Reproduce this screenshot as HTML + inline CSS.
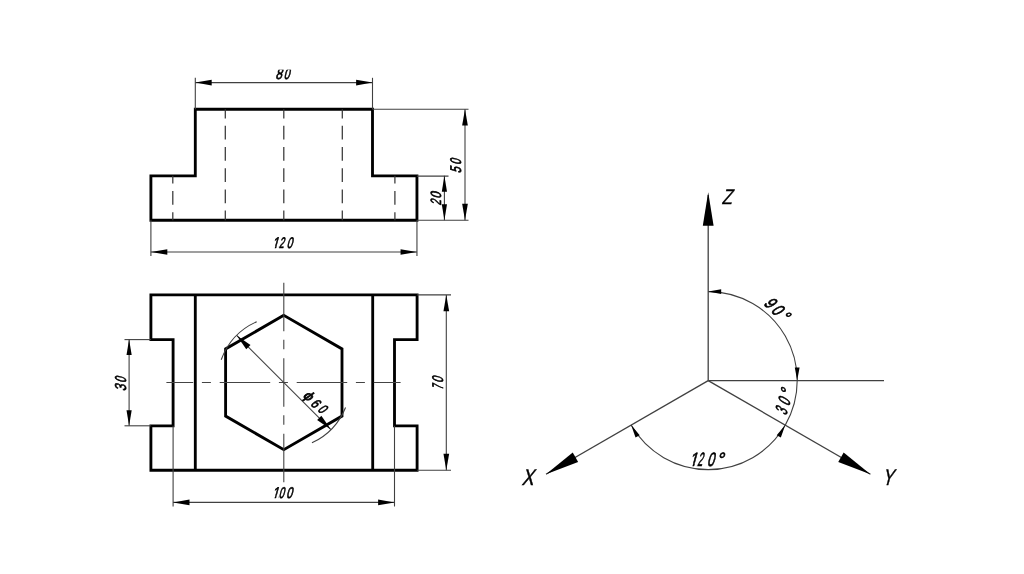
<!DOCTYPE html>
<html><head><meta charset="utf-8"><style>
html,body{margin:0;padding:0;background:#fff;}
svg{display:block;will-change:transform;}
text{font-family:"Liberation Sans",sans-serif;fill:#000;stroke:#000;stroke-width:0.45px;text-rendering:geometricPrecision;}
</style></head><body>
<svg width="1024" height="574" viewBox="0 0 1024 574">
<rect width="1024" height="574" fill="#fff"/>
<path d="M150.90,220.25 L150.90,175.80 L195.30,175.80 L195.30,109.20 L372.50,109.20 L372.50,175.80 L416.95,175.80 L416.95,220.25 Z" fill="none" stroke="#000" stroke-width="2.85" stroke-linejoin="miter" stroke-linecap="square"/>
<line x1="172.8" y1="175.8" x2="172.8" y2="220.25" stroke="#383838" stroke-width="1.25" stroke-dasharray="13.8 7.4" stroke-dashoffset="6.0"/>
<line x1="225.3" y1="109.2" x2="225.3" y2="220.25" stroke="#383838" stroke-width="1.25" stroke-dasharray="13.8 7.4" stroke-dashoffset="4.6"/>
<line x1="283.8" y1="109.2" x2="283.8" y2="220.25" stroke="#383838" stroke-width="1.25" stroke-dasharray="13.8 7.4" stroke-dashoffset="4.6"/>
<line x1="342.3" y1="109.2" x2="342.3" y2="220.25" stroke="#383838" stroke-width="1.25" stroke-dasharray="13.8 7.4" stroke-dashoffset="4.6"/>
<line x1="394.9" y1="175.8" x2="394.9" y2="220.25" stroke="#383838" stroke-width="1.25" stroke-dasharray="13.8 7.4" stroke-dashoffset="6.0"/>
<line x1="195.30" y1="77.80" x2="195.30" y2="109.20" stroke="#404040" stroke-width="1.1" />
<line x1="372.50" y1="77.80" x2="372.50" y2="109.20" stroke="#404040" stroke-width="1.1" />
<line x1="195.30" y1="82.60" x2="372.50" y2="82.60" stroke="#404040" stroke-width="1.1" />
<path d="M195.30,82.60 L211.70,79.75 L211.70,85.45 Z" fill="#000"/>
<path d="M372.50,82.60 L356.10,85.45 L356.10,79.75 Z" fill="#000"/>
<line x1="150.90" y1="220.25" x2="150.90" y2="256.00" stroke="#404040" stroke-width="1.1" />
<line x1="416.95" y1="220.25" x2="416.95" y2="256.00" stroke="#404040" stroke-width="1.1" />
<line x1="150.90" y1="252.00" x2="416.95" y2="252.00" stroke="#404040" stroke-width="1.1" />
<path d="M150.90,252.00 L167.30,249.15 L167.30,254.85 Z" fill="#000"/>
<path d="M416.95,252.00 L400.55,254.85 L400.55,249.15 Z" fill="#000"/>
<line x1="372.50" y1="109.20" x2="468.50" y2="109.20" stroke="#404040" stroke-width="1.1" />
<line x1="416.95" y1="220.25" x2="468.50" y2="220.25" stroke="#404040" stroke-width="1.1" />
<line x1="465.00" y1="109.20" x2="465.00" y2="220.25" stroke="#404040" stroke-width="1.1" />
<path d="M465.00,109.20 L467.85,125.60 L462.15,125.60 Z" fill="#000"/>
<path d="M465.00,220.25 L462.15,203.85 L467.85,203.85 Z" fill="#000"/>
<line x1="416.95" y1="176.10" x2="448.50" y2="176.10" stroke="#404040" stroke-width="1.1" />
<line x1="444.40" y1="175.80" x2="444.40" y2="220.25" stroke="#404040" stroke-width="1.1" />
<path d="M444.40,175.80 L447.00,191.80 L441.80,191.80 Z" fill="#000"/>
<path d="M444.40,220.25 L441.80,204.25 L447.00,204.25 Z" fill="#000"/>
<path d="M150.90,294.90 L417.10,294.90 L417.10,339.60 L394.50,339.60 L394.50,425.80 L417.10,425.80 L417.10,470.20 L150.90,470.20 L150.90,425.80 L173.10,425.80 L173.10,339.60 L150.90,339.60 Z" fill="none" stroke="#000" stroke-width="2.85" stroke-linejoin="miter" stroke-linecap="square"/>
<line x1="195.30" y1="294.90" x2="195.30" y2="470.20" stroke="#000" stroke-width="2.85" />
<line x1="372.70" y1="294.90" x2="372.70" y2="470.20" stroke="#000" stroke-width="2.85" />
<path d="M283.80,315.30 L225.60,348.90 L225.60,416.10 L283.80,449.70 L342.00,416.10 L342.00,348.90 Z" fill="none" stroke="#000" stroke-width="2.85" stroke-linejoin="miter" stroke-linecap="square"/>
<line x1="166.4" y1="382.5" x2="400.6" y2="382.5" stroke="#444" stroke-width="1.1" stroke-dasharray="50.5 8.7 9 8.8" stroke-dashoffset="23.70"/>
<line x1="283.8" y1="282.7" x2="283.8" y2="482.4" stroke="#444" stroke-width="1.1" stroke-dasharray="48.5 8.5 9.5 9" stroke-dashoffset="0"/>
<line x1="124.50" y1="339.60" x2="150.90" y2="339.60" stroke="#404040" stroke-width="1.1" />
<line x1="124.50" y1="425.80" x2="150.90" y2="425.80" stroke="#404040" stroke-width="1.1" />
<line x1="129.10" y1="339.60" x2="129.10" y2="425.80" stroke="#404040" stroke-width="1.1" />
<path d="M129.10,339.60 L131.70,355.10 L126.50,355.10 Z" fill="#000"/>
<path d="M129.10,425.80 L126.50,410.30 L131.70,410.30 Z" fill="#000"/>
<line x1="417.10" y1="294.90" x2="451.00" y2="294.90" stroke="#404040" stroke-width="1.1" />
<line x1="417.10" y1="470.20" x2="451.00" y2="470.20" stroke="#404040" stroke-width="1.1" />
<line x1="446.30" y1="294.90" x2="446.30" y2="470.20" stroke="#404040" stroke-width="1.1" />
<path d="M446.30,294.90 L449.15,311.30 L443.45,311.30 Z" fill="#000"/>
<path d="M446.30,470.20 L443.45,453.80 L449.15,453.80 Z" fill="#000"/>
<line x1="173.10" y1="425.80" x2="173.10" y2="506.50" stroke="#404040" stroke-width="1.1" />
<line x1="394.50" y1="425.80" x2="394.50" y2="506.50" stroke="#404040" stroke-width="1.1" />
<line x1="173.10" y1="502.40" x2="394.50" y2="502.40" stroke="#404040" stroke-width="1.1" />
<path d="M173.10,502.40 L189.50,499.55 L189.50,505.25 Z" fill="#000"/>
<path d="M394.50,502.40 L378.10,505.25 L378.10,499.55 Z" fill="#000"/>
<line x1="236.71" y1="335.41" x2="330.89" y2="429.59" stroke="#404040" stroke-width="1.1" />
<path d="M236.71,335.41 L250.50,344.95 L246.25,349.20 Z" fill="#000"/>
<path d="M330.89,429.59 L317.10,420.05 L321.35,415.80 Z" fill="#000"/>
<path d="M256.71,321.66 A66.6,66.6 0 0 0 221.22,359.72" fill="none" stroke="#404040" stroke-width="1.1"/>
<path d="M311.95,442.86 A66.6,66.6 0 0 0 345.55,407.45" fill="none" stroke="#404040" stroke-width="1.1"/>
<line x1="708.20" y1="380.60" x2="708.20" y2="195.00" stroke="#404040" stroke-width="1.3" />
<path d="M708.20,192.30 L713.60,225.80 L702.80,225.80 Z" fill="#000"/>
<line x1="708.20" y1="380.60" x2="884.00" y2="380.60" stroke="#404040" stroke-width="1.3" />
<line x1="708.20" y1="380.60" x2="545.99" y2="474.25" stroke="#404040" stroke-width="1.3" />
<path d="M545.99,474.25 L572.74,452.57 L578.14,461.93 Z" fill="#000"/>
<line x1="708.20" y1="380.60" x2="870.41" y2="474.25" stroke="#404040" stroke-width="1.3" />
<path d="M870.41,474.25 L838.26,461.93 L843.66,452.57 Z" fill="#000"/>
<path d="M708.20,291.60 A89,89 0 0 1 785.28,425.10" fill="none" stroke="#404040" stroke-width="1.1"/>
<path d="M785.28,425.10 A89,89 0 0 1 631.12,425.10" fill="none" stroke="#404040" stroke-width="1.1"/>
<path d="M708.20,291.60 L721.20,289.20 L721.20,294.00 Z" fill="#000"/>
<path d="M797.20,380.60 L794.80,367.60 L799.60,367.60 Z" fill="#000"/>
<path d="M785.28,425.10 L780.85,437.56 L776.70,435.16 Z" fill="#000"/>
<path d="M631.12,425.10 L639.70,435.16 L635.55,437.56 Z" fill="#000"/>
<clipPath id="c80"><rect x="0" y="69.8" width="1024" height="504"/></clipPath>
<g clip-path="url(#c80)"><g transform="translate(0,0) rotate(0)"><g transform="translate(0,78.75) skewX(-15) scale(0.7520,1)"><text x="365.983" y="0" font-size="15.60" style="stroke-width:0.7px">8</text></g><g transform="translate(0,78.75) skewX(-15) scale(0.6710,1)"><text x="422.568" y="0" font-size="15.60" style="stroke-width:0.7px">0</text></g></g></g>
<g><g transform="translate(0,0) rotate(0)"><g transform="translate(0,248.45) skewX(-15) scale(0.7500,1)"><clipPath id="gt66_0"><path d="M-3000,-300 H3000 V300 H-3000 Z M362.163,-2.443 H366.244 V1.500 H362.163 Z M368.129,-2.443 H370.892 V1.500 H368.129 Z" clip-rule="evenodd"/></clipPath><text x="362.663" y="0" font-size="15.30" clip-path="url(#gt66_0)" style="stroke-width:0.7px">1</text></g><g transform="translate(0,248.45) skewX(-15) scale(0.5730,1)"><text x="486.578" y="0" font-size="15.30" style="stroke-width:0.7px">2</text></g><g transform="translate(0,248.45) skewX(-15) scale(0.6580,1)"><text x="435.384" y="0" font-size="15.30" style="stroke-width:0.7px">0</text></g></g></g>
<g><g transform="translate(0,0) rotate(0)"><g transform="translate(0,498.00) skewX(-15) scale(0.7500,1)"><clipPath id="gt67_0"><path d="M-3000,-300 H3000 V300 H-3000 Z M362.079,-2.458 H366.210 V1.500 H362.079 Z M368.113,-2.458 H370.909 V1.500 H368.113 Z" clip-rule="evenodd"/></clipPath><text x="362.579" y="0" font-size="15.50" clip-path="url(#gt67_0)" style="stroke-width:0.7px">1</text></g><g transform="translate(0,498.00) skewX(-15) scale(0.6140,1)"><text x="453.611" y="0" font-size="15.50" style="stroke-width:0.7px">0</text></g><g transform="translate(0,498.00) skewX(-15) scale(0.6930,1)"><text x="412.882" y="0" font-size="15.50" style="stroke-width:0.7px">0</text></g></g></g>
<g><g transform="translate(125.5,0) rotate(-90)"><g transform="translate(0,0.00) skewX(-15) scale(0.7250,1)"><text x="-539.654" y="0" font-size="15.80" style="stroke-width:0.7px">3</text></g><g transform="translate(0,0.00) skewX(-15) scale(0.6280,1)"><text x="-609.751" y="0" font-size="15.80" style="stroke-width:0.7px">0</text></g></g></g>
<g><g transform="translate(442.6,0) rotate(-90)"><g transform="translate(0,0.00) skewX(-15) scale(0.5400,1)"><text x="-721.929" y="0" font-size="15.50" style="stroke-width:0.7px">7</text></g><g transform="translate(0,0.00) skewX(-15) scale(0.6770,1)"><text x="-565.665" y="0" font-size="15.50" style="stroke-width:0.7px">0</text></g></g></g>
<g><g transform="translate(461.3,0) rotate(-90)"><g transform="translate(0,0.00) skewX(-15) scale(0.6590,1)"><text x="-262.745" y="0" font-size="15.50" style="stroke-width:0.7px">5</text></g><g transform="translate(0,0.00) skewX(-15) scale(0.6450,1)"><text x="-255.688" y="0" font-size="15.50" style="stroke-width:0.7px">0</text></g></g></g>
<g><g transform="translate(440.7,0) rotate(-90)"><g transform="translate(0,0.00) skewX(-15) scale(0.6530,1)"><text x="-314.757" y="0" font-size="14.80" style="stroke-width:0.7px">2</text></g><g transform="translate(0,0.00) skewX(-15) scale(0.7540,1)"><text x="-263.628" y="0" font-size="14.80" style="stroke-width:0.7px">0</text></g></g></g>
<g><g transform="translate(316.0,403.05) rotate(40)"><g transform="translate(0,3.70) skewX(-15) scale(1.0950,1)"><text x="-13.754" y="0" font-size="14.00" style="stroke-width:0.7px">ɸ</text></g><g transform="translate(0,5.00) skewX(-15) scale(0.8160,1)"><text x="-4.751" y="0" font-size="14.00" style="stroke-width:0.7px">6</text></g><g transform="translate(0,5.00) skewX(-15) scale(0.7440,1)"><text x="7.265" y="0" font-size="14.00" style="stroke-width:0.7px">0</text></g></g></g>
<g><g transform="translate(778.8,310.0) rotate(44)"><g transform="translate(0,6.60) skewX(-15) scale(0.7290,1)"><text x="-21.226" y="0" font-size="17.90" style="stroke-width:0.7px">9</text></g><g transform="translate(0,6.60) skewX(-15) scale(0.7650,1)"><text x="-7.146" y="0" font-size="17.90" style="stroke-width:0.7px">0</text></g><g transform="translate(0,6.60) skewX(-15) scale(0.8120,1)"><text x="5.928" y="0" font-size="17.90" style="stroke-width:0.7px">°</text></g></g></g>
<g><g transform="translate(783.9,400.2) rotate(-74)"><g transform="translate(0,6.60) skewX(-15) scale(0.5650,1)"><text x="-25.378" y="0" font-size="17.90" style="stroke-width:0.7px">3</text></g><g transform="translate(0,6.60) skewX(-15) scale(0.6300,1)"><text x="-7.612" y="0" font-size="17.90" style="stroke-width:0.7px">0</text></g><g transform="translate(0,6.60) skewX(-15) scale(0.7910,1)"><text x="5.864" y="0" font-size="17.90" style="stroke-width:0.7px">°</text></g></g></g>
<g><g transform="translate(0,0) rotate(0)"><g transform="translate(0,466.10) skewX(-15) scale(0.7500,1)"><clipPath id="gt75_0"><path d="M-3000,-300 H3000 V300 H-3000 Z M918.289,-2.742 H923.375 V1.500 H918.289 Z M925.614,-2.742 H929.047 V1.500 H925.614 Z" clip-rule="evenodd"/></clipPath><text x="918.789" y="0" font-size="19.30" clip-path="url(#gt75_0)" style="stroke-width:0.7px">1</text></g><g transform="translate(0,466.10) skewX(-15) scale(0.4850,1)"><text x="1437.277" y="0" font-size="19.30" style="stroke-width:0.7px">2</text></g><g transform="translate(0,466.10) skewX(-15) scale(0.6650,1)"><text x="1062.920" y="0" font-size="19.30" style="stroke-width:0.7px">0</text></g><g transform="translate(0,466.10) skewX(-15) scale(0.9210,1)"><text x="777.532" y="0" font-size="19.30" style="stroke-width:0.7px">°</text></g></g></g>
<g><g transform="translate(0,0) rotate(0)"><g transform="translate(0,203.85) skewX(-15) scale(0.7860,1)"><text x="917.934" y="0" font-size="21.20" style="stroke-width:0.45px">Z</text></g></g></g>
<g><g transform="translate(0,0) rotate(0)"><g transform="translate(0,484.65) skewX(-15) scale(0.7860,1)"><text x="663.651" y="0" font-size="22.40" style="stroke-width:0.45px">X</text></g></g></g>
<g><g transform="translate(0,0) rotate(0)"><g transform="translate(0,484.65) skewX(-15) scale(0.7340,1)"><text x="1201.545" y="0" font-size="22.40" style="stroke-width:0.45px">Y</text></g></g></g>
</svg></body></html>
